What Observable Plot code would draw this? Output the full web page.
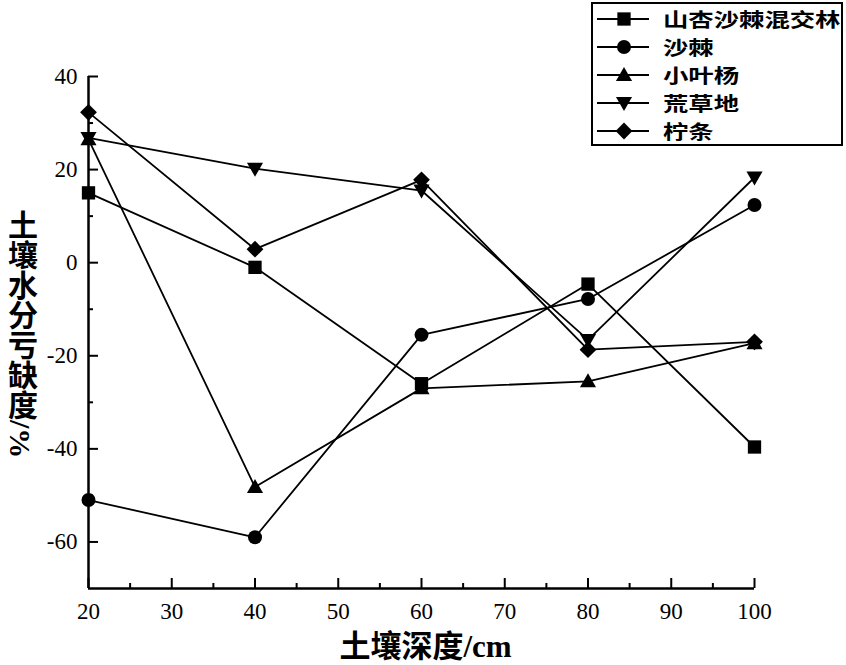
<!DOCTYPE html>
<html><head><meta charset="utf-8">
<script src="https://cdn.jsdelivr.net/npm/d3@7"></script>
<script src="https://cdn.jsdelivr.net/npm/@observablehq/plot@0.6"></script>
<style>
body{margin:0;background:#fff;}
#wrap{position:relative;width:846px;height:665px;overflow:hidden;background:#fff;}
#wrap svg, #wrap svg text{font-family:"Liberation Serif","Noto Sans CJK SC" !important;}
#ylab{position:absolute;left:5px;top:210px;writing-mode:vertical-rl;font-weight:bold;font-size:30px;font-family:"Liberation Serif","Noto Sans CJK SC";line-height:30px;}
#legend{position:absolute;left:591px;top:2px;width:248px;height:140px;border:2px solid #000;background:#fff;}
.lrow{position:absolute;left:0;height:28px;display:flex;align-items:center;}
.lrow span{display:inline-block;font-weight:bold;font-size:19.5px;font-family:"Noto Sans CJK SC";margin-left:12px;line-height:28px;transform:scaleX(1.3);transform-origin:0 50%;white-space:nowrap;}
</style></head><body><div id="wrap"></div>
<script>
// data
const depths = [20, 40, 60, 80, 100];
const seriesNames = ["山杏沙棘混交林", "沙棘", "小叶杨", "荒草地", "柠条"];
const mixedForest = [15, -1, -26, -4.6, -39.6];
const shaji = [-51, -59, -15.5, -7.8, 12.4];
const xiaoyeyang = [26.5, -48.2, -27, -25.5, -17.3];
const huangcaodi = [26.8, 20.2, 15.5, -16.6, 18.3];
const ningtiao = [32.3, 2.9, 17.8, -18.7, -17];
const xMajor = [20, 30, 40, 50, 60, 70, 80, 90, 100];
const xMinor = [25, 35, 45, 55, 65, 75, 85, 95];
const yMajor = [-60, -40, -20, 0, 20, 40];
const yMinor = [-50, -30, -10, 10, 30];
const xLabel = "土壤深度/cm";
const yLabel = "土壤水分亏缺度/%";

// symbols
const rad = s => Math.sqrt(s / Math.PI);
const symSquare = {draw(c, s){const h = rad(s)*0.95; c.moveTo(-h,-h); c.lineTo(h,-h); c.lineTo(h,h); c.lineTo(-h,h); c.closePath();}};
const symCircle = {draw(c, s){const r = rad(s); c.moveTo(r,0); c.arc(0,0,r,0,2*Math.PI); c.closePath();}};
const symTriUp = {draw(c, s){const r = rad(s); c.moveTo(0,-1.15*r); c.lineTo(1.15*r,0.85*r); c.lineTo(-1.15*r,0.85*r); c.closePath();}};
const symTriDown = {draw(c, s){const r = rad(s); c.moveTo(0,1.15*r); c.lineTo(1.15*r,-0.85*r); c.lineTo(-1.15*r,-0.85*r); c.closePath();}};
const symDiamond = {draw(c, s){const r = rad(s)*1.2; c.moveTo(0,-r); c.lineTo(r,0); c.lineTo(0,r); c.lineTo(-r,0); c.closePath();}};

const seriesValues = [mixedForest, shaji, xiaoyeyang, huangcaodi, ningtiao];
const seriesSymbols = [symSquare, symCircle, symTriUp, symTriDown, symDiamond];

const rows = seriesNames.flatMap((name, k) => depths.map((d, i) => ({name, depth: d, value: seriesValues[k][i]})));

const serif = "Liberation Serif";
const chart = Plot.plot({
  width: 846, height: 665,
  marginTop: 76, marginBottom: 77, marginLeft: 88, marginRight: 92,
  x: {domain: [20, 100]},
  y: {domain: [-70, 40]},
  style: {fontFamily: '"Liberation Serif","Noto Sans CJK SC"', background: "white", color: "black", overflow: "visible"},
  marks: [
    Plot.axisX({ticks: xMajor, tickSize: -10, tickPadding: 24, tickFormat: d => String(d), fontSize: 23, fontFamily: serif, strokeWidth: 2, label: null}),
    Plot.axisX({ticks: xMinor, tickSize: -5, tickFormat: () => "", strokeWidth: 2, label: null}),
    Plot.axisY({ticks: yMajor, tickSize: -10, tickPadding: 21, tickFormat: d => String(d), fontSize: 23, fontFamily: serif, strokeWidth: 2, label: null}),
    Plot.axisY({ticks: yMinor, tickSize: -5, tickFormat: () => "", strokeWidth: 2, label: null}),
    Plot.ruleX([20], {strokeWidth: 2.5}),
    Plot.ruleY([-70], {strokeWidth: 2.5}),
    Plot.line(rows, {x: "depth", y: "value", z: "name", stroke: "black", strokeWidth: 1.8}),
    ...seriesNames.map((name, k) => Plot.dot(rows.filter(r => r.name === name), {x: "depth", y: "value", r: 7, symbol: seriesSymbols[k], fill: "black", stroke: "none"})),
    Plot.text([xLabel], {text: d => d, frameAnchor: "bottom", dy: 59, dx: 4, fontSize: 31, fontWeight: "bold", lineAnchor: "middle"})
  ]
});
const wrap = document.getElementById("wrap");
wrap.appendChild(chart);

const yl = document.createElement("div");
yl.id = "ylab"; yl.textContent = yLabel;
wrap.appendChild(yl);

const legend = d3.select(wrap).append("div").attr("id", "legend");
seriesNames.forEach((name, k) => {
  const row = legend.append("div").attr("class", "lrow").style("top", (1 + k*28) + "px");
  const svg = row.append("svg").attr("width", 56).attr("height", 28).style("margin-left", "2px");
  svg.append("line").attr("x1", 2).attr("x2", 54).attr("y1", 14).attr("y2", 14).attr("stroke", "black").attr("stroke-width", 1.8);
  svg.append("path").attr("transform", "translate(29,14)").attr("d", d3.symbol(seriesSymbols[k], Math.PI*49)()).attr("fill", "black");
  row.append("span").text(name);
});
</script></body></html>
